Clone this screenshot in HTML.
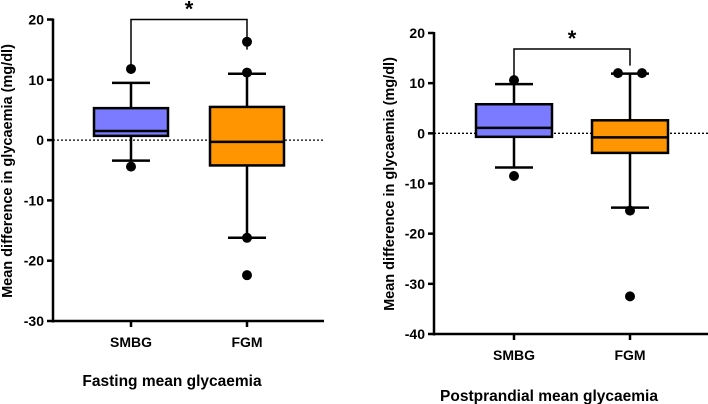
<!DOCTYPE html>
<html><head><meta charset="utf-8"><style>
body{margin:0;background:#fff;}
svg{display:block;font-family:"Liberation Sans",Arial,sans-serif;font-weight:bold;}
</style></head><body>
<svg id="c" width="708" height="404" viewBox="0 0 708 404"></svg>
<script>
const categories = ["SMBG", "FGM"];
// panel A: fasting
const fastQ1 = [0.7, -4.2], fastMed = [1.5, -0.3], fastQ3 = [5.3, 5.5];
const fastLo = [-3.4, -16.2], fastHi = [9.5, 11.0];
const fastOut = [[11.8, -4.4], [16.3, 11.2, -16.2, -22.4]];
const fastTicks = [20, 10, 0, -10, -20, -30];
// panel B: postprandial
const postQ1 = [-0.7, -3.9], postMed = [1.1, -0.8], postQ3 = [5.8, 2.6];
const postLo = [-6.8, -14.8], postHi = [9.8, 11.9];
const postOut = [[10.6, -8.5], [12.0, 12.0, -15.4, -32.5]];
const postTicks = [20, 10, 0, -10, -20, -30, -40];

const NS = "http://www.w3.org/2000/svg";
const svg = document.getElementById('c');
function el(tag, attrs, parent, name) {
  const e = document.createElementNS(NS, tag);
  for (const k in attrs) e.setAttribute(k, attrs[k]);
  
  
  (parent || svg).appendChild(e);
  return e;
}
const colors = ["#7b7bff", "#ff9500"];

function panel(p) {
  const g = el('g', {}, svg, p.name);
  const y = v => p.y0 + (p.ymax - v) / (p.ymax - p.ymin) * (p.y1 - p.y0);
  el('line', {x1: p.ax, x2: p.xr, y1: y(0), y2: y(0), stroke: '#000', 'stroke-width': 1.3, 'stroke-dasharray': '2,2'}, g, 'zero-reference-line');
  el('line', {x1: p.ax, x2: p.ax, y1: y(p.ymax) - 1, y2: y(p.ymin) + 1.5, stroke: '#000', 'stroke-width': 2.5}, g, 'y-axis');
  el('line', {x1: p.ax - 1, x2: p.xr, y1: y(p.ymin), y2: y(p.ymin), stroke: '#000', 'stroke-width': 2.5}, g, 'x-axis');
  p.ticks.forEach(t => {
    el('line', {x1: p.ax - 6, x2: p.ax, y1: y(t), y2: y(t), stroke: '#000', 'stroke-width': 2.5}, g, 'y-tick');
    const tx = el('text', {x: p.ax - 9, y: y(t) + 5, 'text-anchor': 'end', 'font-size': 14}, g, 'y-tick-label');
    tx.textContent = t;
  });
  const yt = el('text', {transform: `translate(${p.ytx},${p.ytc}) rotate(-90)`, 'text-anchor': 'middle', 'font-size': 14.5}, g, 'y-axis-title');
  yt.textContent = 'Mean difference in glycaemia (mg/dl)';
  const xt = el('text', {x: p.titleX, y: p.titleY, 'text-anchor': 'middle', 'font-size': 15.5}, g, 'x-axis-title');
  xt.textContent = p.title;
  categories.forEach((c, i) => {
    const cx = p.xs[i];
    el('line', {x1: cx, x2: cx, y1: y(p.ymin), y2: y(p.ymin) + 6, stroke: '#000', 'stroke-width': 2.5}, g, 'x-tick');
    const lb = el('text', {x: cx, y: y(p.ymin) + 26, 'text-anchor': 'middle', 'font-size': 14}, g, 'x-tick-label');
    lb.textContent = c;
    el('line', {x1: cx, x2: cx, y1: y(p.hi[i]), y2: y(p.lo[i]), stroke: '#000', 'stroke-width': 2.5}, g, 'whisker-' + c.toLowerCase());
    [p.hi[i], p.lo[i]].forEach(v => el('line', {x1: cx - 19, x2: cx + 19, y1: y(v), y2: y(v), stroke: '#000', 'stroke-width': 2.5}, g, 'whisker-cap'));
    el('rect', {x: cx - p.bw / 2, y: y(p.q3[i]), width: p.bw, height: y(p.q1[i]) - y(p.q3[i]), fill: colors[i], stroke: '#000', 'stroke-width': 2.5}, g, 'box-' + c.toLowerCase());
    el('line', {x1: cx - p.bw / 2, x2: cx + p.bw / 2, y1: y(p.med[i]), y2: y(p.med[i]), stroke: '#000', 'stroke-width': 2.5}, g, 'median-' + c.toLowerCase());
    p.out[i].forEach((v, j) => {
      const dx = p.outDx ? p.outDx[i][j] : 0;
      el('circle', {cx: cx + dx, cy: y(v), r: 5, fill: '#000'}, g, 'outlier-point');
    });
  });
  el('polyline', {points: `${p.xs[0]},${y(p.bL)} ${p.xs[0]},${y(p.bY)} ${p.xs[1]},${y(p.bY)} ${p.xs[1]},${y(p.bR)}`, fill: 'none', stroke: '#000', 'stroke-width': 1.5}, g, 'significance-bracket');
  const st = el('text', {x: (p.xs[0] + p.xs[1]) / 2, y: y(p.bY) - 3, 'text-anchor': 'middle', 'font-size': 22}, g, 'significance-star');
  st.textContent = '*';
}

panel({name: 'fasting-chart', ax: 53, xr: 324, y0: 19.5, y1: 321, ymax: 20, ymin: -30, ticks: fastTicks,
  xs: [131, 247], bw: 74, q1: fastQ1, med: fastMed, q3: fastQ3, lo: fastLo, hi: fastHi, out: fastOut,
  ytx: 12, ytc: 171, titleX: 172, titleY: 386, title: 'Fasting mean glycaemia', bY: 20, bL: 11.8, bR: 15});
panel({name: 'postprandial-chart', ax: 434, xr: 708, y0: 33, y1: 334, ymax: 20, ymin: -40, ticks: postTicks,
  xs: [514, 630], bw: 76, q1: postQ1, med: postMed, q3: postQ3, lo: postLo, hi: postHi, out: postOut,
  outDx: [[0, 0], [-12, 12, 0, 0]],
  ytx: 394, ytc: 184, titleX: 549, titleY: 401, title: 'Postprandial mean glycaemia', bY: 16.8, bL: 11.5, bR: 13.5});
</script>
</body></html>
